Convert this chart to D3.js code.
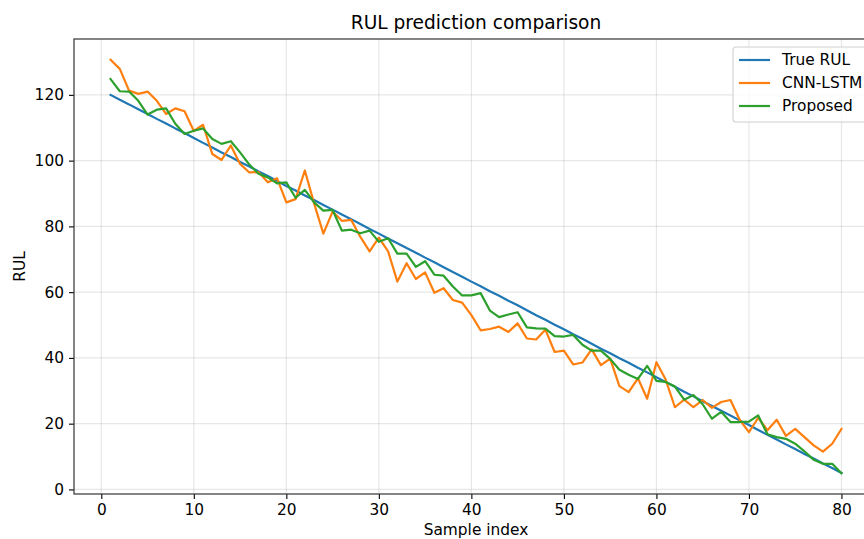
<!DOCTYPE html>
<html>
<head>
<meta charset="utf-8">
<script src="https://cdn.jsdelivr.net/npm/d3@7"></script>
<style>
  body { margin: 0; background: #fff; }
  text { font-family: "DejaVu Sans", sans-serif; fill: #000; }
</style>
</head>
<body>
<div class="rul"></div>
<script>
// data
var sampleIdx = d3.range(1, 81);
var trueRul = [120.0, 118.5, 117.1, 115.6, 114.2, 112.7, 111.3, 109.8, 108.4, 106.9,
  105.4, 104.0, 102.5, 101.1, 99.6, 98.2, 96.7, 95.3, 93.8, 92.3,
  90.9, 89.4, 88.0, 86.5, 85.1, 83.6, 82.2, 80.7, 79.2, 77.8,
  76.3, 74.9, 73.4, 72.0, 70.5, 69.1, 67.6, 66.1, 64.7, 63.2,
  61.8, 60.3, 58.9, 57.4, 56.0, 54.5, 53.0, 51.6, 50.1, 48.7,
  47.2, 45.8, 44.3, 42.8, 41.4, 39.9, 38.5, 37.0, 35.6, 34.1,
  32.7, 31.2, 29.7, 28.3, 26.8, 25.4, 23.9, 22.5, 21.0, 19.6,
  18.1, 16.6, 15.2, 13.7, 12.3, 10.8, 9.4, 7.9, 6.5, 5.0];
var cnnLstm = [130.7, 127.9, 121.3, 120.3, 121.0, 118.2, 114.2, 115.9, 115.0, 109.0,
  110.9, 102.0, 100.2, 104.6, 99.0, 96.4, 96.5, 93.4, 94.6, 87.3,
  88.3, 97.0, 87.0, 77.8, 84.5, 81.7, 82.0, 76.8, 72.4, 76.6,
  72.4, 63.2, 68.8, 64.0, 66.0, 59.8, 61.2, 57.6, 56.8, 53.0,
  48.4, 48.8, 49.5, 47.9, 50.5, 45.9, 45.6, 48.6, 41.8, 42.2,
  38.0, 38.6, 42.6, 37.8, 39.8, 31.4, 29.6, 33.8, 27.6, 38.7,
  33.4, 25.0, 27.3, 25.0, 27.2, 24.8, 26.6, 27.2, 21.2, 17.4,
  21.8, 18.0, 21.2, 16.3, 18.4, 15.9, 13.4, 11.5, 13.9, 18.4];
var proposed = [124.8, 121.1, 121.0, 118.2, 114.0, 115.5, 115.9, 111.2, 108.1, 109.1,
  109.8, 106.6, 105.1, 105.9, 102.5, 98.8, 96.0, 94.9, 93.1, 93.4,
  88.7, 91.1, 87.3, 84.8, 85.0, 78.7, 79.0, 77.9, 78.7, 75.3,
  76.4, 71.7, 71.7, 67.7, 69.4, 65.3, 65.0, 61.7, 59.0, 59.0,
  59.7, 54.4, 52.4, 53.2, 53.9, 49.3, 49.0, 48.9, 46.6, 46.5,
  47.0, 44.0, 42.2, 42.2, 39.7, 36.4, 34.9, 33.6, 37.6, 33.0,
  32.7, 31.3, 27.3, 28.7, 25.9, 21.5, 23.6, 20.5, 20.5, 20.6,
  22.5, 16.8, 15.9, 15.4, 13.9, 11.6, 9.0, 7.8, 7.8, 4.9];
var seriesNames = ["True RUL", "CNN-LSTM", "Proposed"];
var seriesColors = ["#1f77b4", "#ff7f0e", "#2ca02c"];
var xTicks = [0, 10, 20, 30, 40, 50, 60, 70, 80];
var yTicks = [0, 20, 40, 60, 80, 100, 120];

// dimensions (the axes run a little past the right edge of the picture)
var margin = {top: 39, bottom: 45, left: 74, right: -14};
var W = 864, H = 539;
var width = W - margin.left - margin.right;
var height = H - margin.top - margin.bottom;
var fs = 15.4; // tick / label font size

var svg = d3.select(".rul")
  .append("svg")
  .attr("width", W)
  .attr("height", H);

var g = svg.append("g")
  .attr("transform", "translate(" + margin.left + "," + margin.top + ")");

// scales with matplotlib-like 5% margins
var xMin = 1, xMax = 80;
var xPad = (xMax - xMin) * 0.05;
var x = d3.scaleLinear().range([0, width]).domain([xMin - xPad, xMax + xPad]);

var allY = trueRul.concat(cnnLstm, proposed);
var yLo = d3.min(allY), yHi = d3.max(allY);
var yPad = (yHi - yLo) * 0.05;
var y = d3.scaleLinear().range([height, 0]).domain([yLo - yPad, yHi + yPad]);

// grid
g.append("g").selectAll("line").data(xTicks).join("line")
  .attr("x1", function(d) { return x(d); }).attr("x2", function(d) { return x(d); })
  .attr("y1", 0).attr("y2", height)
  .attr("stroke", "#b0b0b0").attr("stroke-opacity", 0.3).attr("stroke-width", 1.2);
g.append("g").selectAll("line").data(yTicks).join("line")
  .attr("x1", 0).attr("x2", width)
  .attr("y1", function(d) { return y(d); }).attr("y2", function(d) { return y(d); })
  .attr("stroke", "#b0b0b0").attr("stroke-opacity", 0.3).attr("stroke-width", 1.2);

// lines
var line = d3.line()
  .x(function(d, i) { return x(sampleIdx[i]); })
  .y(function(d) { return y(d); });

[trueRul, cnnLstm, proposed].forEach(function(s, k) {
  g.append("path")
    .datum(s)
    .attr("fill", "none")
    .attr("stroke", seriesColors[k])
    .attr("stroke-width", 2.2)
    .attr("stroke-linejoin", "round")
    .attr("stroke-linecap", "square")
    .attr("d", line);
});

// axes
var xAxis = g.append("g")
  .attr("transform", "translate(0," + height + ")")
  .call(d3.axisBottom(x).tickValues(xTicks).tickSize(5).tickPadding(5));
var yAxis = g.append("g")
  .call(d3.axisLeft(y).tickValues(yTicks).tickSize(5).tickPadding(5));
[xAxis, yAxis].forEach(function(a) {
  a.select(".domain").remove();
  a.selectAll("line").attr("stroke", "#000").attr("stroke-width", 1.1);
  a.selectAll("text").style("font-size", fs + "px").style("font-family", "DejaVu Sans");
});

// spines
g.append("rect")
  .attr("x", 0).attr("y", 0).attr("width", width).attr("height", height)
  .attr("fill", "none").attr("stroke", "#333").attr("stroke-width", 1.2);

// labels
svg.append("text")
  .attr("x", margin.left + width / 2).attr("y", 29)
  .attr("text-anchor", "middle")
  .style("font-size", "18.6px")
  .text("RUL prediction comparison");
svg.append("text")
  .attr("x", margin.left + width / 2).attr("y", 535)
  .attr("text-anchor", "middle")
  .style("font-size", fs + "px")
  .text("Sample index");
svg.append("text")
  .attr("transform", "translate(25," + (margin.top + height / 2) + ") rotate(-90)")
  .attr("text-anchor", "middle")
  .style("font-size", fs + "px")
  .text("RUL");

// legend
var lg = g.append("g")
  .attr("transform", "translate(" + (width - 7 - 138) + ",8)");
lg.append("rect")
  .attr("width", 138).attr("height", 75).attr("rx", 3)
  .attr("fill", "#fff").attr("fill-opacity", 0.8)
  .attr("stroke", "#d0d0d0").attr("stroke-width", 1.1);
seriesNames.forEach(function(name, k) {
  var yy = 13 + k * 23;
  lg.append("line")
    .attr("x1", 6).attr("x2", 37).attr("y1", yy).attr("y2", yy)
    .attr("stroke", seriesColors[k]).attr("stroke-width", 2.2);
  lg.append("text")
    .attr("x", 49).attr("y", yy)
    .attr("dominant-baseline", "central")
    .style("font-size", fs + "px")
    .text(name);
});
</script>
</body>
</html>
